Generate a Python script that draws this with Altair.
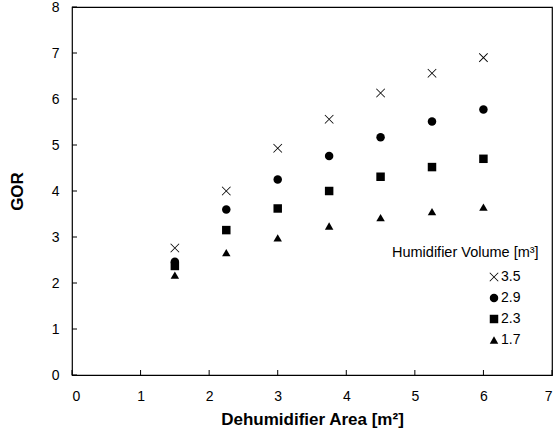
import altair as alt
import pandas as pd

# Dehumidifier area [m2] on the x axis
area = [1.5, 2.25, 3.0, 3.75, 4.5, 5.25, 6.0]
# GOR for each humidifier volume [m3]
gor_35 = [2.76, 4.00, 4.93, 5.56, 6.13, 6.56, 6.90]
gor_29 = [2.46, 3.60, 4.25, 4.76, 5.17, 5.51, 5.77]
gor_23 = [2.37, 3.15, 3.62, 4.00, 4.31, 4.52, 4.70]
gor_17 = [2.17, 2.66, 2.98, 3.24, 3.42, 3.55, 3.65]
volumes = ["3.5", "2.9", "2.3", "1.7"]
x_ticks = [0, 1, 2, 3, 4, 5, 6, 7]
y_ticks = [0, 1, 2, 3, 4, 5, 6, 7, 8]
legend_title = "Humidifier Volume [m³]"

rows = []
for vol, series in zip(volumes, [gor_35, gor_29, gor_23, gor_17]):
    for a, g in zip(area, series):
        rows.append({"area": a, "gor": g, "volume": vol})
df = pd.DataFrame(rows)

FONT = "Liberation Sans"
W, H = 480, 368
TICK_LEN = 5
# thin "x" marker built as a filled outline so it shows with fill only
X_PATH = ("M-1.07,-0.93L0.93,1.07L1.07,0.93L-0.93,-1.07Z"
          "M-0.93,1.07L1.07,-0.93L0.93,-1.07L-1.07,0.93Z")
shapes = [X_PATH, "circle", "square", "triangle-up"]

x_scale = alt.Scale(domain=[0, 7], nice=False, zero=False)
y_scale = alt.Scale(domain=[0, 8], nice=False, zero=False)

x_axis = alt.Axis(orient="bottom", values=x_ticks, ticks=False, domain=False,
                  grid=False, title="Dehumidifier Area [m²]", labelPadding=14,
                  labelFontSize=14, titleFontSize=17, titleFontWeight="bold",
                  titlePadding=8, labelColor="black", titleColor="black")
y_axis = alt.Axis(orient="left", values=y_ticks, ticks=False, domain=False,
                  grid=False, title="GOR", labelPadding=13,
                  labelFontSize=14, titleFontSize=17, titleFontWeight="bold",
                  titlePadding=25, labelColor="black", titleColor="black")

points = alt.Chart(df).mark_point(filled=True, color="black", opacity=1, size=72).encode(
    x=alt.X("area:Q", scale=x_scale, axis=x_axis),
    y=alt.Y("gor:Q", scale=y_scale, axis=y_axis),
    shape=alt.Shape("volume:N", scale=alt.Scale(domain=volumes, range=shapes),
                    legend=alt.Legend(title=None, orient="none", legendX=415, legendY=263,
                                      labelFontSize=14, labelFont=FONT, labelColor="black",
                                      symbolFillColor="black", symbolStrokeColor="black",
                                      symbolStrokeWidth=0, symbolOpacity=1, symbolSize=72,
                                      rowPadding=7, labelOffset=0, padding=0)),
)

# Inward-pointing tick marks along the bottom and left edges
x_tick_df = pd.DataFrame({"tick": x_ticks})
y_tick_df = pd.DataFrame({"tick": y_ticks})

x_tick_marks = alt.Chart(x_tick_df).mark_rule(color="black", strokeWidth=1).encode(
    x=alt.X("tick:Q", scale=x_scale, axis=x_axis),
    y=alt.value(H),
    y2=alt.value(H - TICK_LEN),
)
y_tick_marks = alt.Chart(y_tick_df).mark_rule(color="black", strokeWidth=1).encode(
    y=alt.Y("tick:Q", scale=y_scale, axis=y_axis),
    x=alt.value(0),
    x2=alt.value(TICK_LEN),
)

legend_label = alt.Chart(pd.DataFrame({"t": [legend_title]})).mark_text(
    align="left", baseline="alphabetic", fontSize=14.5, font=FONT, color="black"
).encode(text="t:N", x=alt.value(320), y=alt.value(250))

chart = alt.layer(points, x_tick_marks, y_tick_marks, legend_label).properties(
    width=W, height=H,
    autosize=alt.AutoSizeParams(type="none"),
    padding={"left": 72, "top": 7, "right": 6, "bottom": 58},
).configure(font=FONT).configure_view(stroke="black", strokeWidth=1.2).configure_axis(
    labelFont=FONT, titleFont=FONT
)

chart.save("out.html", embed_options={"renderer": "svg", "actions": False})
